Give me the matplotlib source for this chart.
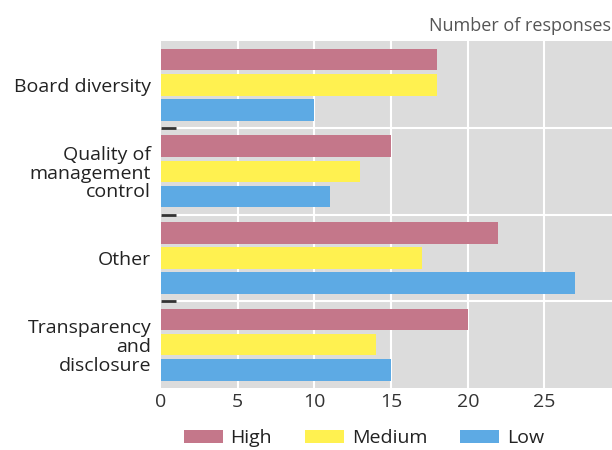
import matplotlib
matplotlib.use("Agg")
import matplotlib.pyplot as plt
import numpy as np

plt.rcParams["font.family"] = ["Open Sans", "DejaVu Sans"]

categories = [
    "Board diversity",
    "Quality of\nmanagement\ncontrol",
    "Other",
    "Transparency\nand\ndisclosure",
]
series_names = ["High", "Medium", "Low"]
high = [18, 15, 22, 20]
medium = [18, 13, 17, 14]
low = [10, 11, 27, 15]
colors = ["#C4778A", "#FFF150", "#5DAAE4"]
x_ticks = [0, 5, 10, 15, 20, 25]

fig = plt.figure(figsize=(6.12, 4.5), dpi=100)
ax = fig.add_axes([0.263, 0.138, 0.737, 0.77])
ax.set_facecolor("#DCDCDC")

slot = 0.29
bar_h = 0.25
pos = np.arange(len(categories))
for i, (name, vals) in enumerate(zip(series_names, [high, medium, low])):
    ax.barh(pos + (i - 1) * slot, vals, height=bar_h, color=colors[i],
            label=name, zorder=3)

ax.set_xlim(0, 29.4)
ax.set_ylim(len(categories) - 0.5, -0.5)

# white grid: vertical at ticks, horizontal between groups
for x in x_ticks[1:]:
    ax.axvline(x, color="white", lw=1.5, zorder=1)
for y in pos[:-1] + 0.5:
    ax.axhline(y, color="white", lw=1.5, zorder=1)

ax.set_xticks(x_ticks)
ax.set_yticks(pos)
ax.set_yticklabels(categories, fontsize=14, linespacing=1.05,
                   color="#222222")
ax.set_yticks(pos[:-1] + 0.5, minor=True)
ax.tick_params(axis="y", which="major", length=0, pad=7)
ax.tick_params(axis="y", which="minor", direction="in", length=11,
               width=2, color="#333333")
ax.tick_params(axis="x", length=0, labelsize=14, labelcolor="#333333", pad=4)
for s in ax.spines.values():
    s.set_visible(False)

fig.text(0.999, 0.943, "Number of responses", ha="right", va="center",
         fontsize=13, color="#555555")

fig.legend(*ax.get_legend_handles_labels(), loc="center left",
           bbox_to_anchor=(174 / 612, 1 - 438 / 450), ncol=3,
           frameon=False, fontsize=14, handlelength=2.0, handleheight=0.65,
           columnspacing=1.7, handletextpad=0.4, borderpad=0,
           labelcolor="#222222")

fig.savefig("out.png", dpi=100)
